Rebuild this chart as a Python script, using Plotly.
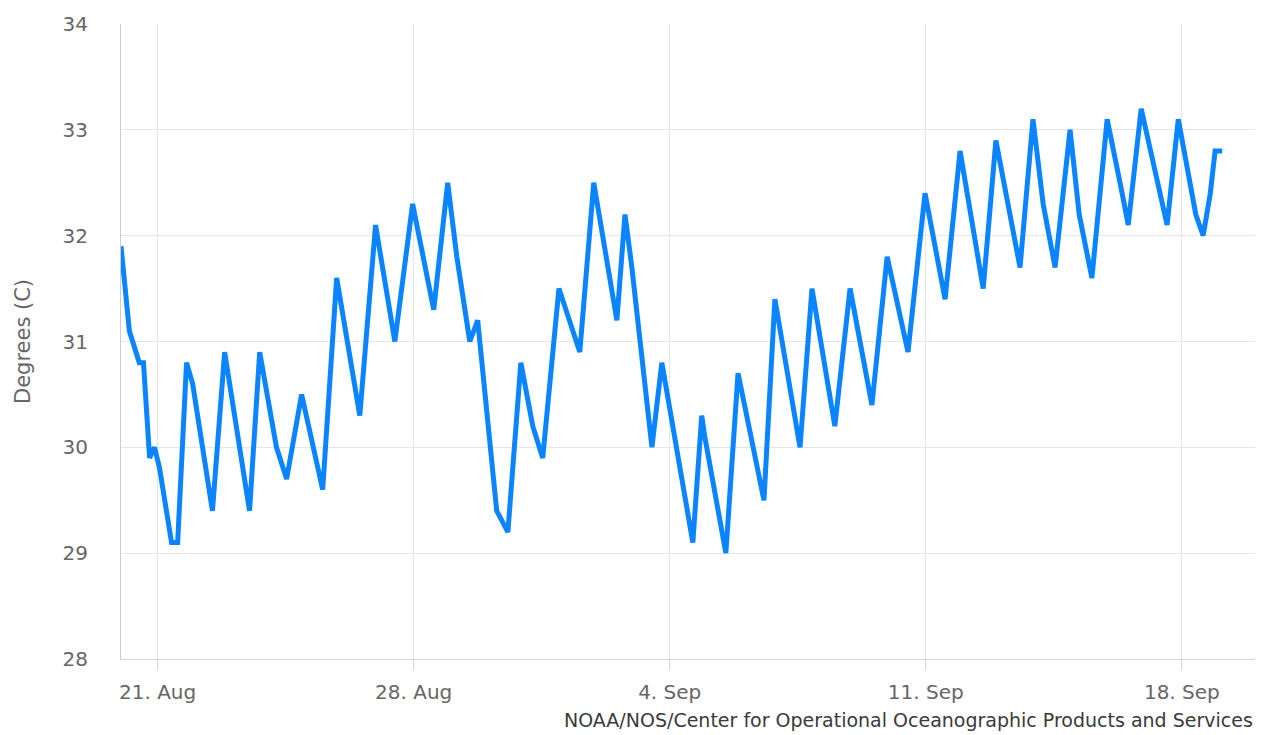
import plotly.graph_objects as go

# Water temperature readings (local time, degrees C)
times = [
    "2023-08-20 00:00", "2023-08-20 02:30", "2023-08-20 05:30", "2023-08-20 12:00",
    "2023-08-20 14:45", "2023-08-20 18:45", "2023-08-20 22:00", "2023-08-21 01:20",
    "2023-08-21 09:10", "2023-08-21 13:10", "2023-08-21 19:00", "2023-08-21 23:00",
    "2023-08-22 12:00", "2023-08-22 20:00", "2023-08-23 12:20", "2023-08-23 19:00",
    "2023-08-24 06:00", "2023-08-24 12:40", "2023-08-24 22:30", "2023-08-25 12:20",
    "2023-08-25 21:30", "2023-08-26 12:40", "2023-08-26 23:00", "2023-08-27 11:40",
    "2023-08-27 23:20", "2023-08-28 13:10", "2023-08-28 22:20", "2023-08-29 04:20",
    "2023-08-29 12:50", "2023-08-29 18:00", "2023-08-30 06:30", "2023-08-30 13:50",
    "2023-08-30 22:20", "2023-08-31 06:10", "2023-08-31 12:40", "2023-08-31 23:20",
    "2023-09-01 13:00", "2023-09-01 22:10", "2023-09-02 13:20", "2023-09-02 18:40",
    "2023-09-02 23:10", "2023-09-03 12:20", "2023-09-03 18:50", "2023-09-04 08:00",
    "2023-09-04 15:10", "2023-09-04 21:00", "2023-09-04 23:00", "2023-09-05 12:50",
    "2023-09-05 20:50", "2023-09-06 13:50", "2023-09-06 21:00", "2023-09-07 13:30",
    "2023-09-07 21:20", "2023-09-08 12:20", "2023-09-08 22:20", "2023-09-09 12:40",
    "2023-09-09 22:40", "2023-09-10 12:20", "2023-09-10 23:30", "2023-09-11 12:40",
    "2023-09-11 22:30", "2023-09-12 13:40", "2023-09-12 22:00", "2023-09-13 13:50",
    "2023-09-13 22:20", "2023-09-14 05:00", "2023-09-14 12:50", "2023-09-14 22:40",
    "2023-09-15 04:40", "2023-09-15 13:00", "2023-09-15 23:00", "2023-09-16 08:50",
    "2023-09-16 12:50", "2023-09-16 21:20", "2023-09-17 11:50", "2023-09-17 14:20",
    "2023-09-17 21:40", "2023-09-18 09:10", "2023-09-18 14:00", "2023-09-18 18:40",
    "2023-09-18 21:50", "2023-09-19 02:30",
]
temps = [
    31.9, 31.5, 31.1, 30.8,
    30.8, 29.9, 30.0, 29.8,
    29.1, 29.1, 30.8, 30.6,
    29.4, 30.9, 29.4, 30.9,
    30.0, 29.7, 30.5, 29.6,
    31.6, 30.3, 32.1, 31.0,
    32.3, 31.3, 32.5, 31.8,
    31.0, 31.2, 29.4, 29.2,
    30.8, 30.2, 29.9, 31.5,
    30.9, 32.5, 31.2, 32.2,
    31.7, 30.0, 30.8, 29.7,
    29.1, 30.3, 30.1, 29.0,
    30.7, 29.5, 31.4, 30.0,
    31.5, 30.2, 31.5, 30.4,
    31.8, 30.9, 32.4, 31.4,
    32.8, 31.5, 32.9, 31.7,
    33.1, 32.3, 31.7, 33.0,
    32.2, 31.6, 33.1, 32.4,
    32.1, 33.2, 32.3, 32.1,
    33.1, 32.2, 32.0, 32.4,
    32.8, 32.8,
]

x_range = ["2023-08-20 00:00", "2023-09-20 00:00"]
y_range = [28, 34]
axis_title = "Degrees (C)"
credit_text = "NOAA/NOS/Center for Operational Oceanographic Products and Services"

fig = go.Figure()
fig.add_trace(go.Scatter(
    x=times, y=temps, mode="lines",
    line=dict(color="#0a84ff", width=5),
    hoverinfo="x+y", showlegend=False,
))

label_font = dict(family="DejaVu Sans", size=20, color="#666666")

fig.update_layout(
    width=1270, height=735,
    margin=dict(l=121, r=15, t=19, b=76),
    paper_bgcolor="white", plot_bgcolor="white",
    xaxis=dict(
        range=x_range, type="date",
        tick0="2023-08-21", dtick=7 * 24 * 3600 * 1000,
        tickformat="%-d. %b",
        showgrid=True, gridcolor="#e6e6e6", gridwidth=1,
        showline=True, linecolor="#ccd6eb", linewidth=1,
        ticks="outside", ticklen=10, tickcolor="#ccd6eb", tickwidth=1,
        tickfont=label_font, ticklabelstandoff=5, zeroline=False,
    ),
    yaxis=dict(
        range=y_range, dtick=1,
        showgrid=True, gridcolor="#e6e6e6", gridwidth=1,
        showline=True, linecolor="#cccccc", linewidth=1,
        ticks="", tickfont=label_font, ticklabelstandoff=28,
        zeroline=False,
        title=dict(text=axis_title, font=dict(family="DejaVu Sans", size=21, color="#666666"), standoff=26),
    ),
    annotations=[dict(
        text=credit_text, xref="paper", yref="paper",
        x=1.0, y=-0.096, xanchor="right", yanchor="middle",
        showarrow=False,
        font=dict(family="DejaVu Sans", size=19, color="#3a3a3a"),
    )],
)

fig.write_html("out.html")
